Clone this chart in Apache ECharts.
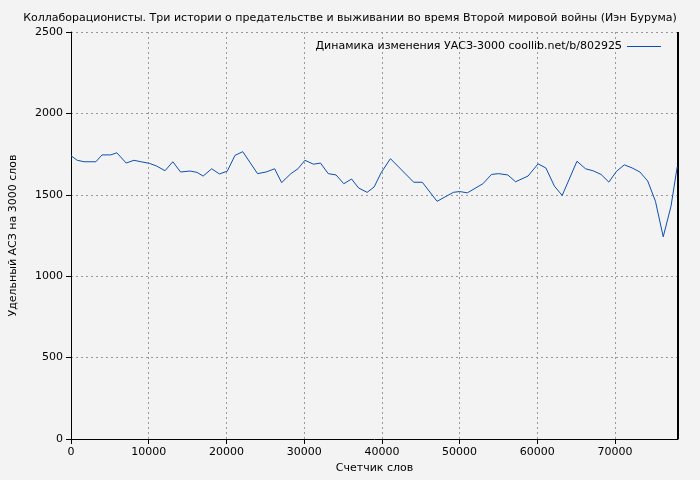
<!DOCTYPE html>
<html>
<head>
<meta charset="utf-8">
<script src="https://cdn.jsdelivr.net/npm/echarts@6/dist/echarts.min.js"></script>
<style>
html, body { margin: 0; padding: 0; background: #f3f3f3; }
#chart { width: 700px; height: 480px; }
</style>
</head>
<body>
<div id="chart"></div>
<script>
// счетчик слов (тыс.)
var wordCounts = [0, 0.8, 1.7, 3.2, 4, 5.1, 5.9, 7.1, 8.1, 9.1, 10.1, 11, 12.1, 13.1, 14.1, 15.3, 16.2, 17, 18.1, 19.1,
    20.1, 21.1, 22.1, 24, 25.1, 26.2, 27.1, 28.3, 29.2, 30.1, 31.2, 32.1, 33.1, 34.1, 35.1, 36.1, 37, 38.1, 39, 39.9,
    41.1, 44.1, 45.2, 47.1, 49.2, 50, 51, 53, 54.1, 55, 56.2, 57.2, 58.8, 60.1, 61.1, 62.2, 63.2, 65.1, 66.2, 67.2,
    68.2, 69.2, 70.2, 71.2, 72.2, 73.2, 74.2, 75.2, 76.2, 77.2, 78];
// удельный АСЗ
var uasz = [1740, 1712, 1703, 1703, 1745, 1745, 1758, 1695, 1712, 1702, 1693, 1677, 1648, 1703, 1640, 1646, 1638, 1615, 1660, 1628,
    1645, 1742, 1765, 1630, 1640, 1660, 1575, 1630, 1660, 1712, 1688, 1695, 1630, 1622, 1568, 1597, 1542, 1515, 1548, 1635,
    1722, 1577, 1577, 1460, 1515, 1520, 1512, 1568, 1625, 1630, 1622, 1580, 1615, 1690, 1665, 1553, 1496, 1706, 1660, 1647,
    1625, 1578, 1645, 1684, 1665, 1640, 1585, 1460, 1242, 1430, 1672];
var xTicks = [0, 10000, 20000, 30000, 40000, 50000, 60000, 70000];
var yTicks = [0, 500, 1000, 1500, 2000, 2500];

var chart = echarts.init(document.getElementById('chart'));

var points = [];
for (var i = 0; i < wordCounts.length; i++) {
    points.push([wordCounts[i] * 1000, uasz[i]]);
}

var font = 'DejaVu Sans';
var gridLine = {show: true, lineStyle: {color: '#999', type: [2, 3], width: 1}};

chart.setOption({
    backgroundColor: '#f3f3f3',
    animation: false,
    title: {
        text: 'Коллаборационисты. Три истории о предательстве и выживании во время Второй мировой войны (Иэн Бурума)',
        left: 'center',
        top: 8,
        textStyle: {fontFamily: font, fontSize: 11, fontWeight: 'normal', color: '#000'}
    },
    legend: {
        right: 34,
        top: 36,
        itemWidth: 34,
        itemHeight: 1,
        itemGap: 8,
        icon: 'rect',
        align: 'right',
        textStyle: {fontFamily: font, fontSize: 11, color: '#000'},
        data: ['Динамика изменения УАСЗ-3000 coollib.net/b/802925']
    },
    grid: {left: 67, right: 22, top: 32, bottom: 41, containLabel: false},
    xAxis: {
        type: 'value',
        min: 0,
        max: 78100,
        interval: 10000,
        name: 'Счетчик слов',
        nameLocation: 'middle',
        nameGap: 24,
        nameTextStyle: {fontFamily: font, fontSize: 11, color: '#000'},
        axisLine: {show: true, lineStyle: {color: '#000', width: 1}},
        axisTick: {show: true, length: 5, lineStyle: {color: '#000'}},
        axisLabel: {
            fontFamily: font, fontSize: 11, color: '#000', showMaxLabel: false,
            formatter: function (v) { return xTicks.indexOf(v) >= 0 ? String(v) : ''; }
        },
        splitLine: gridLine
    },
    yAxis: {
        type: 'value',
        min: 0,
        max: 2500,
        interval: 500,
        name: 'Удельный АСЗ на 3000 слов',
        nameLocation: 'middle',
        nameGap: 52,
        nameTextStyle: {fontFamily: font, fontSize: 11, color: '#000'},
        axisLine: {show: true, lineStyle: {color: '#000', width: 1}},
        axisTick: {show: true, length: 5, lineStyle: {color: '#000'}},
        axisLabel: {
            fontFamily: font, fontSize: 11, color: '#000',
            formatter: function (v) { return yTicks.indexOf(v) >= 0 ? String(v) : ''; }
        },
        splitLine: gridLine
    },
    series: [{
        name: 'Динамика изменения УАСЗ-3000 coollib.net/b/802925',
        type: 'line',
        data: points,
        symbol: 'none',
        lineStyle: {color: '#0d4fb5', width: 1},
        itemStyle: {color: '#0d4fb5'}
    }]
});

// правая граница области графика
chart.setOption({
    graphic: [{
        type: 'line',
        shape: {x1: 678, y1: 32, x2: 678, y2: 439},
        style: {stroke: '#000', lineWidth: 2}
    }]
});
</script>
</body>
</html>
